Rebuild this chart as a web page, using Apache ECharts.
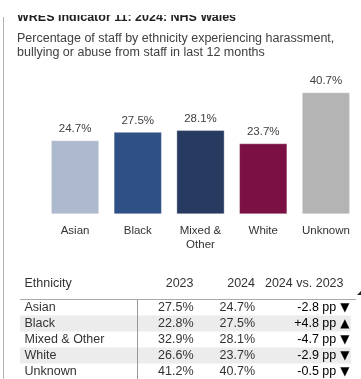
<!DOCTYPE html>
<html>
<head>
<meta charset="utf-8">
<script src="https://cdn.jsdelivr.net/npm/echarts@6/dist/echarts.min.js"></script>
<style>
  html, body { margin: 0; padding: 0; background: #fff; }
  #chart { width: 361px; height: 379px; }
</style>
</head>
<body>
<div id="chart"></div>
<script>
// WRES indicator 11 — staff experiencing harassment, bullying or abuse from staff
const categories = ['Asian', 'Black', 'Mixed & Other', 'White', 'Unknown'];
const values2023 = [27.5, 22.8, 32.9, 26.6, 41.2];
const values2024 = [24.7, 27.5, 28.1, 23.7, 40.7];
const changePp = [-2.8, 4.8, -4.7, -2.9, -0.5];
const barColors = ['#adb9cd', '#2f5084', '#273b61', '#7a1142', '#b4b4b4'];
const tableHeader = ['Ethnicity', '2023', '2024', '2024 vs. 2023'];

const FONT = 'Arial, "Liberation Sans", sans-serif';
const chart = echarts.init(document.getElementById('chart'), null, { renderer: 'canvas' });

const pct = v => v.toFixed(1) + '%';
const ppText = v => (v > 0 ? '+' : '') + v.toFixed(1) + ' pp';

// table layout
const rowY0 = 307.5, rowH = 16;
const colX = { eth: 24.5, y23: 193.5, y24: 255, diff: 349.5 };

const table = [];
// banded rows
categories.forEach((c, i) => {
  if (i % 2 === 1) {
    table.push({ type: 'rect', shape: { x: 20, y: rowY0 + i * rowH - 8, width: 331, height: rowH },
      style: { fill: '#ececec' }, silent: true, z: 1 });
  }
});
// header
const headerStyle = { font: '12.5px ' + FONT, fill: '#333', textVerticalAlign: 'middle' };
table.push({ type: 'text', x: colX.eth, y: 283.5, style: Object.assign({ text: tableHeader[0], textAlign: 'left' }, headerStyle), z: 5 });
table.push({ type: 'text', x: colX.y23, y: 283.5, style: Object.assign({ text: tableHeader[1], textAlign: 'right' }, headerStyle), z: 5 });
table.push({ type: 'text', x: colX.y24, y: 283.5, style: Object.assign({ text: tableHeader[2], textAlign: 'right' }, headerStyle), z: 5 });
table.push({ type: 'text', x: 343.5, y: 283.5, style: Object.assign({ text: tableHeader[3], textAlign: 'right' }, headerStyle), z: 5 });
// sort marker
table.push({ type: 'polygon', shape: { points: [[357, 295], [361, 295], [361, 291]] }, style: { fill: '#222' }, z: 5 });
// header rule and column divider
table.push({ type: 'line', shape: { x1: 20, y1: 299.5, x2: 356, y2: 299.5 }, style: { stroke: '#aaaaaa', lineWidth: 1 }, z: 4 });
table.push({ type: 'line', shape: { x1: 137.5, y1: 299.5, x2: 137.5, y2: 379 }, style: { stroke: '#999999', lineWidth: 1 }, z: 4 });
// body rows
categories.forEach((c, i) => {
  const y = rowY0 + i * rowH;
  const base = { font: '12.5px ' + FONT, fill: '#333', textVerticalAlign: 'middle' };
  table.push({ type: 'text', x: colX.eth, y, style: Object.assign({ text: c, textAlign: 'left' }, base), z: 5 });
  table.push({ type: 'text', x: colX.y23, y, style: Object.assign({ text: pct(values2023[i]), textAlign: 'right' }, base), z: 5 });
  table.push({ type: 'text', x: colX.y24, y, style: Object.assign({ text: pct(values2024[i]), textAlign: 'right' }, base), z: 5 });
  table.push({ type: 'text', x: colX.diff, y, style: {
    text: '{v|' + ppText(changePp[i]) + '}{a|' + (changePp[i] > 0 ? '▲' : '▼') + '}',
    textAlign: 'right', textVerticalAlign: 'middle',
    rich: {
      v: { fontFamily: FONT, fontSize: 12.5, color: '#333' },
      a: { fontFamily: '"DejaVu Sans", sans-serif', fontSize: 12, color: '#111', padding: [0, 0, 0, 4] }
    }
  }, z: 5 });
});

chart.setOption({
  backgroundColor: '#ffffff',
  animation: false,
  grid: { left: 43.7, right: 3.7, top: 92.3, bottom: 164.7, containLabel: false },
  xAxis: {
    type: 'category',
    data: categories,
    axisLine: { show: false },
    axisTick: { show: false },
    axisLabel: {
      margin: 10,
      color: '#333',
      fontFamily: FONT,
      fontSize: 11.5,
      lineHeight: 14,
      interval: 0,
      formatter: v => v.replace(' & ', ' &\n')
    }
  },
  yAxis: { type: 'value', min: 0, max: 40.7, show: false, splitLine: { show: false } },
  series: [{
    type: 'bar',
    data: values2024.map((v, i) => ({ value: v, itemStyle: { color: barColors[i] } })),
    barCategoryGap: '23%',
    itemStyle: { borderColor: 'rgba(255,255,255,0.35)', borderWidth: 1 },
    label: {
      show: true,
      position: 'top',
      distance: 5,
      color: '#404040',
      fontFamily: FONT,
      fontSize: 11.5,
      formatter: p => pct(p.value)
    }
  }],
  graphic: [
    // frame edge on the left
    { type: 'line', shape: { x1: 3.5, y1: 17, x2: 3.5, y2: 379 }, style: { stroke: '#b0b0b0', lineWidth: 1 }, z: 10 },
    { type: 'text', x: 17, y: 18, style: { text: 'WRES Indicator 11: 2024: NHS Wales', font: 'bold 12.5px ' + FONT, fill: '#222', textVerticalAlign: 'middle' }, z: 5 },
    // top strip hides the upper part of the heading
    { type: 'rect', shape: { x: 0, y: 0, width: 361, height: 15 }, style: { fill: '#ffffff' }, z: 20 },
    { type: 'text', x: 17, y: 38.5, style: { text: 'Percentage of staff by ethnicity experiencing harassment,', font: '12.5px ' + FONT, fill: '#404040', textVerticalAlign: 'middle' }, z: 5 },
    { type: 'text', x: 17, y: 52.5, style: { text: 'bullying or abuse from staff in last 12 months', font: '12.5px ' + FONT, fill: '#404040', textVerticalAlign: 'middle' }, z: 5 }
  ].concat(table)
});
</script>
</body>
</html>
